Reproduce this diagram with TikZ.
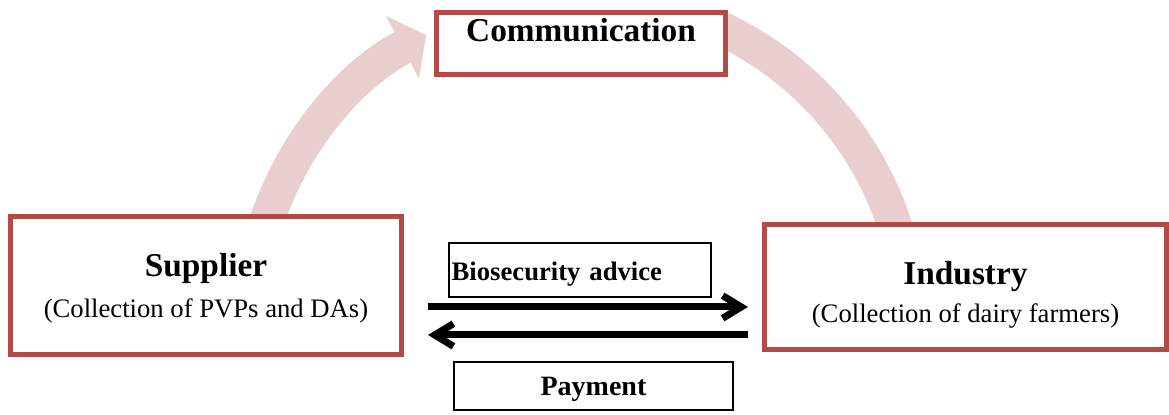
\documentclass[tikz,border=0pt]{standalone}
\usepackage{fontspec}
\setmainfont{Liberation Serif}
\usetikzlibrary{arrows.meta}
\definecolor{boxred}{RGB}{178,75,72}
\definecolor{arcpink}{RGB}{233,206,207}
\begin{document}
\begin{tikzpicture}[x=0.75pt, y=0.75pt,
    partybox/.style={draw=boxred, line width=3.75pt, fill=white, align=center, inner sep=0pt},
    titlefont/.style={font=\bfseries\fontsize{25}{30}\selectfont},
    labelbox/.style={draw=black, fill=white, font=\bfseries\fontsize{20}{24}\selectfont},
    cycle/.style={arcpink, line width=26pt},
    flow/.style={line width=5.25pt, -{Straight Barb[length=14pt, width=17pt]}}]

    \useasboundingbox (0,0) rectangle (1169,414);

    % pink cycle, drawn first so the boxes hide its ends
    \draw[cycle, -{Triangle[width=52pt, length=20pt]}] (580,86) ++(165:331) arc[start angle=165, end angle=117.7, radius=331];
    \draw[cycle] (580,86) ++(65.5:331) arc[start angle=65.5, end angle=12, radius=331];

    \node[partybox, titlefont, minimum width=216.75pt, minimum height=46.5pt,
          text height=22.1pt, text depth=24.4pt] (comm) at (581,370.5) {Communication};

    \node[partybox, minimum width=293.25pt, minimum height=103.5pt,
          font=\fontsize{20}{31}\selectfont] (sup) at (206,128.5)
          {{\bfseries\fontsize{25}{30}\selectfont\rule{0pt}{22pt}Supplier}\\(Collection of PVPs and DAs)};
    \node[partybox, minimum width=301.5pt, minimum height=93.75pt,
          font=\fontsize{20}{28}\selectfont] (ind) at (965.5,127)
          {{\bfseries\fontsize{25}{30}\selectfont\rule{0pt}{29pt}Industry}\\(Collection of dairy farmers)};

    \node[labelbox, line width=1.1pt, minimum width=196.5pt, minimum height=40.5pt,
          text width=192.5pt, inner xsep=2pt, align=left,
          text height=16.7pt, text depth=1.3pt] (adv) at (580,144) {Biosecurity advice};
    \node[labelbox, line width=1.5pt, minimum width=209.25pt, minimum height=36pt,
          font=\bfseries\fontsize{21}{25}\selectfont,
          text height=16.2pt, text depth=1.3pt] (pay) at (593.5,28) {Payment};

    \coordinate (advstart) at ([yshift=-16.1pt]sup.east);
    \coordinate (paystart) at ([yshift=-37.1pt]sup.east);

    \draw[flow, shorten <=18pt, shorten >=10.5pt] (advstart) -- (advstart -| ind.west);
    \draw[flow, shorten <=10.5pt, shorten >=18pt] (paystart -| ind.west) -- (paystart);
\end{tikzpicture}
\end{document}
